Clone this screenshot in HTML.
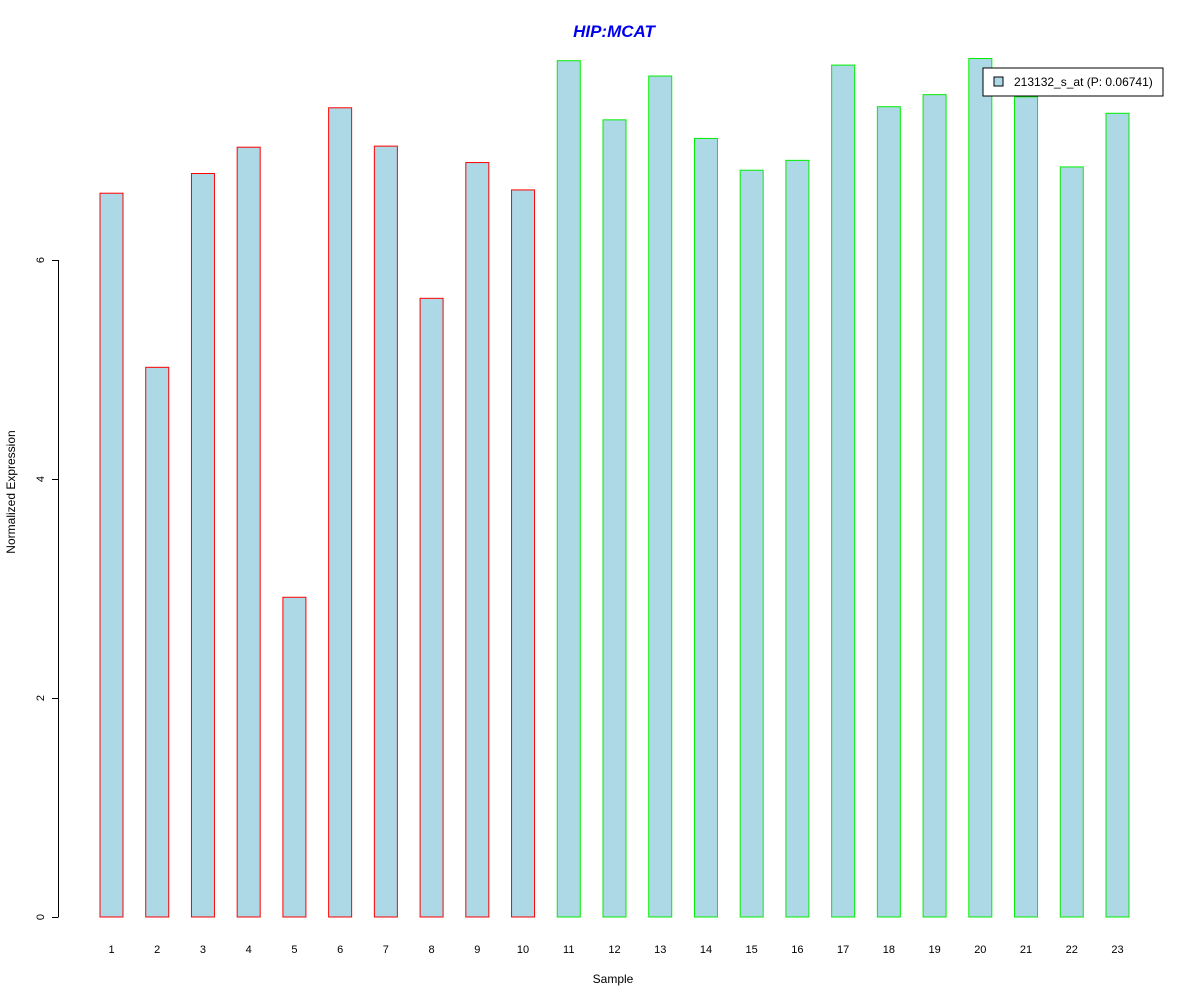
<!DOCTYPE html>
<html><head><meta charset="utf-8"><style>
body{margin:0;background:#fff}
svg{display:block;font-family:"Liberation Sans",Arial,sans-serif}
</style></head><body>
<svg id="chart" width="1200" height="1000" viewBox="0 0 1200 1000">
<text x="614" y="37" text-anchor="middle" font-size="17" font-weight="bold" font-style="italic" fill="#0000ee">HIP:MCAT</text>
<text x="613" y="983" text-anchor="middle" font-size="12">Sample</text>
<text transform="translate(15,492) rotate(-90)" text-anchor="middle" font-size="12">Normalized Expression</text>
<g id="yaxis"></g>
<g id="bars"></g>
<g id="xlabels"></g>
<g>
<rect x="983" y="68" width="180" height="28" fill="#fff" stroke="#000"/>
<rect x="994" y="77" width="9" height="9" fill="#add8e6" stroke="#000"/>
<text x="1014" y="86" font-size="12">213132_s_at (P: 0.06741)</text>
</g>
</svg>
<script>
const categories=["1","2","3","4","5","6","7","8","9","10","11","12","13","14","15","16","17","18","19","20","21","22","23"];
const values=[6.61,5.02,6.79,7.03,2.92,7.39,7.04,5.65,6.89,6.64,7.82,7.28,7.68,7.11,6.82,6.91,7.78,7.40,7.51,7.84,7.49,6.85,7.34];
const groups=["red","red","red","red","red","red","red","red","red","red","#00ee00","#00ee00","#00ee00","#00ee00","#00ee00","#00ee00","#00ee00","#00ee00","#00ee00","#00ee00","#00ee00","#00ee00","#00ee00"];
const yTicks=[0,2,4,6];
const NS="http://www.w3.org/2000/svg";
const y=v=>917-v*109.5;
const x=i=>111.5+i*(1006/22);
const bw=23;
const bars=document.getElementById('bars'),xl=document.getElementById('xlabels'),ya=document.getElementById('yaxis');
values.forEach((v,i)=>{
 const r=document.createElementNS(NS,'rect');
 
 
 r.setAttribute('x',x(i)-bw/2);r.setAttribute('y',y(v));
 r.setAttribute('width',bw);r.setAttribute('height',y(0)-y(v));
 r.setAttribute('fill','#add8e6');r.setAttribute('stroke',groups[i]);
 bars.appendChild(r);
 const t=document.createElementNS(NS,'text');
 
 
 t.setAttribute('x',x(i));t.setAttribute('y',953);t.setAttribute('text-anchor','middle');t.setAttribute('font-size','11');
 t.textContent=categories[i];xl.appendChild(t);
});
const ax=document.createElementNS(NS,'line');


ax.setAttribute('x1',58.5);ax.setAttribute('x2',58.5);ax.setAttribute('y1',y(yTicks[0]));ax.setAttribute('y2',y(yTicks[yTicks.length-1]));ax.setAttribute('stroke','#000');
ya.appendChild(ax);
yTicks.forEach(v=>{
 const l=document.createElementNS(NS,'line');
 
 
 l.setAttribute('x1',52);l.setAttribute('x2',58.5);l.setAttribute('y1',y(v)+0.5);l.setAttribute('y2',y(v)+0.5);l.setAttribute('stroke','#000');
 ya.appendChild(l);
 const t=document.createElementNS(NS,'text');
 
 
 t.setAttribute('transform','translate(44,'+y(v)+') rotate(-90)');t.setAttribute('text-anchor','middle');t.setAttribute('font-size','11');
 t.textContent=v;ya.appendChild(t);
});
</script>
</body></html>
